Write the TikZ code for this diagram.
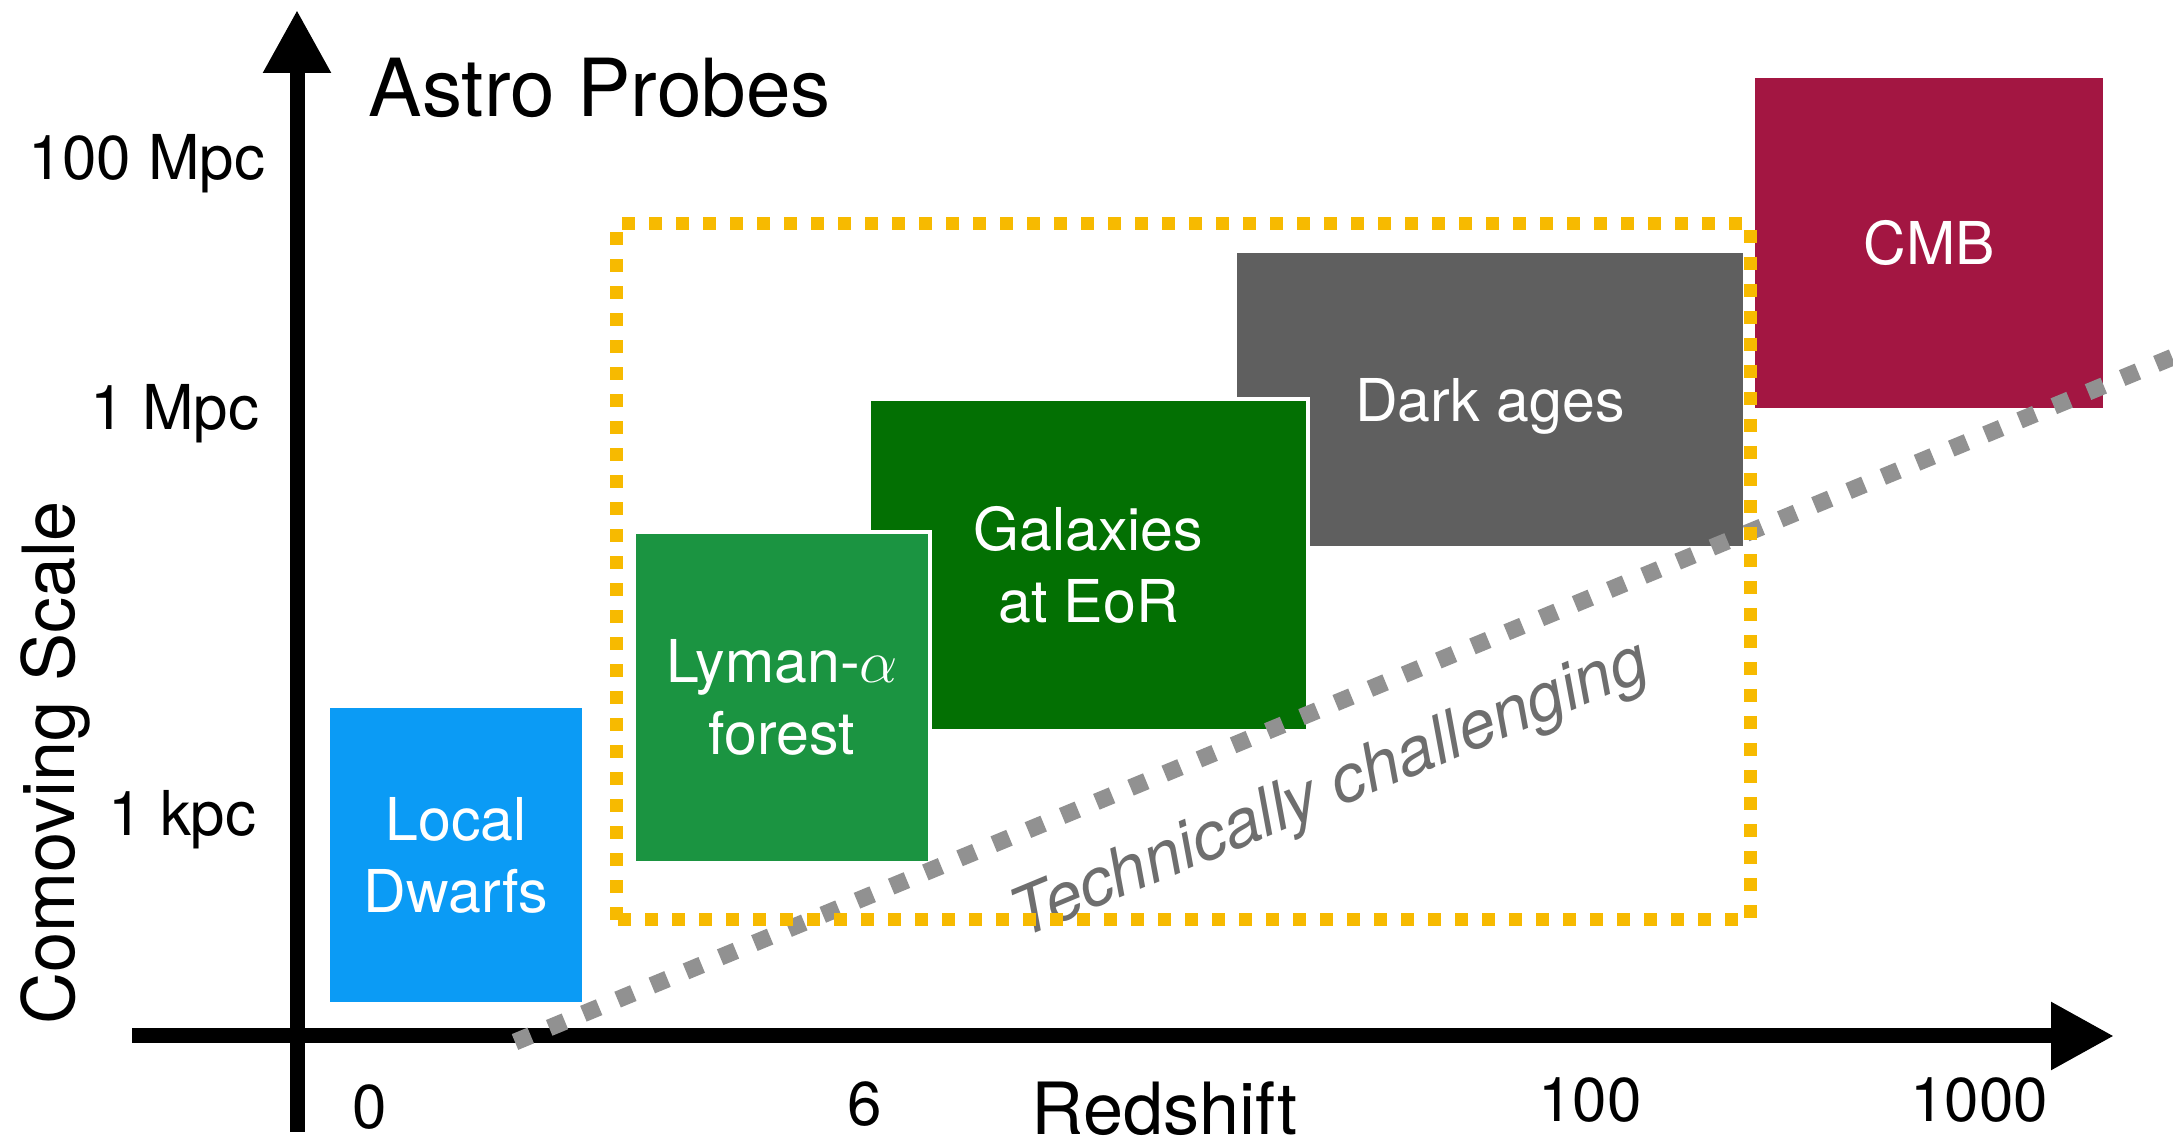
\documentclass[tikz,border=0pt]{standalone}
\usepackage{fontspec}
\setmainfont{TeX Gyre Heros}
\usepackage{xcolor}
\usetikzlibrary{arrows.meta,positioning}

\definecolor{dwarfblue}{RGB}{11,155,245}
\definecolor{lymangreen}{RGB}{27,148,65}
\definecolor{eorgreen}{RGB}{3,112,3}
\definecolor{darkgray}{RGB}{95,95,95}
\definecolor{cmbred}{RGB}{163,22,66}
\definecolor{fieldyellow}{RGB}{247,186,0}
\definecolor{limitgray}{RGB}{145,145,145}
\definecolor{notegray}{RGB}{110,110,110}

\begin{document}
\begin{tikzpicture}[
  axisline/.style={line width=0.15cm, -{Triangle[length=0.63cm, width=0.64cm]}},
  probe/.style={draw=white, line width=0.9pt, inner sep=0pt, text=white, align=center,
                font=\fontsize{16.8}{20.5}\selectfont},
  ticklabel/.style={inner sep=0pt, font=\fontsize{17.6}{21}\selectfont},
  axislabel/.style={inner sep=0pt, font=\fontsize{20.5}{24}\selectfont}
]
\useasboundingbox (0,0) rectangle (21.73,11.37);

% axes
\draw[axisline] (2.97,0.05) -- (2.97,11.27);
\draw[axisline] (1.32,1.01) -- (21.14,1.01);

\node[inner sep=0pt, anchor=base west, font=\fontsize{22.8}{27}\selectfont]
  (title) at (3.68,10.20) {Astro Probes};
\node[axislabel, rotate=90, anchor=base] (ylabel) at (0.74,3.74) {Comoving Scale};
\node[axislabel, anchor=base west] (xlabel) at (10.31,0.02) {Redshift};

% scale ticks
\node[ticklabel, anchor=base east] (y100) at (2.66,9.57) {100 Mpc};
\node[ticklabel, anchor=base east] (y1) at (2.60,7.07) {1 Mpc};
\node[ticklabel, anchor=base east] (ykpc) at (2.57,3.01) {1 kpc};

% redshift ticks
\node[ticklabel, anchor=base] (z0) at (3.70,0.08) {0};
\node[ticklabel, anchor=base] (z6) at (8.65,0.12) {6};
\node[ticklabel, anchor=base] (z100) at (15.90,0.15) {100};
\node[ticklabel, anchor=base] (z1000) at (19.79,0.15) {1000};

% probes, back to front
\node[probe, fill=darkgray, minimum width=5.10cm, minimum height=2.97cm, text depth=0pt]
  (dark) at (14.90,7.375) {Dark ages};
\node[probe, fill=eorgreen, minimum width=4.39cm, minimum height=3.32cm]
  (eor) at (10.885,5.72) {Galaxies\\at EoR};
\node[probe, fill=lymangreen, minimum width=2.96cm, minimum height=3.31cm]
  (lya) at (7.82,4.395) {Lyman-$\alpha$\\forest};
\node[probe, fill=dwarfblue, minimum width=2.56cm, minimum height=2.98cm]
  (dwarfs) at (4.56,2.82) {Local\\Dwarfs};
\node[probe, fill=cmbred, minimum width=3.52cm, minimum height=3.34cm]
  (cmb) at (19.29,8.94) {CMB};

% technical limit
\coordinate (lim0) at (5.15,0.95);
\coordinate (lim1) at (21.73,7.80);
\draw[limitgray, line width=0.17cm, dash pattern=on 0.17cm off 0.20cm] (lim0) -- (lim1);
\node[inner sep=0pt, rotate=22.5, text=notegray, font=\fontsize{19}{22}\selectfont\itshape]
  (hard) at (13.31,3.45) {Technically challenging};

% 21cm window
\draw[fieldyellow, line width=0.13cm, dash pattern=on 0.13cm off 0.14cm]
  (6.16,2.17) rectangle (17.50,9.13);
\end{tikzpicture}
\end{document}
